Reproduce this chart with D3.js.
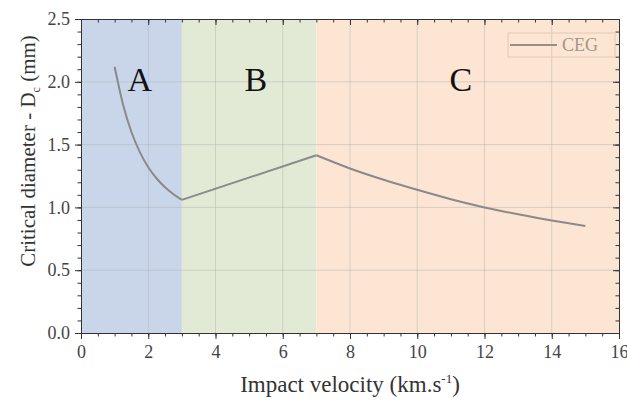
<!DOCTYPE html>
<html>
<head>
<meta charset="utf-8">
<script src="https://cdn.jsdelivr.net/npm/d3@7"></script>
<style>
	body { margin: 0; background: #fff; }
</style>
</head>
<body>
<div id="chart-area"></div>
<script>
// ** Data **
var velocity = [1, 1.25, 1.5, 1.75, 2, 2.25, 2.5, 2.75, 3, 7, 8, 9, 10, 11, 12, 13, 14, 15];
var diameter = [2.12, 1.82, 1.60, 1.44, 1.32, 1.23, 1.16, 1.105, 1.06, 1.415, 1.31, 1.22, 1.14, 1.065, 1.0, 0.945, 0.895, 0.852];
var regionNames = ["A", "B", "C"];
var regionStart = [0, 3, 7];
var regionEnd = [3, 7, 16];
var regionLabelX = [1.75, 5.2, 11.3];
var regionLabelY = 1.93;
var xTicks = [0, 2, 4, 6, 8, 10, 12, 14, 16];
var yTicks = [0.0, 0.5, 1.0, 1.5, 2.0, 2.5];
var seriesName = "CEG";

var serif = "'Liberation Serif', 'Times New Roman', serif";

// ** Dimensions **
var svgWidth = 627, svgHeight = 401;
var margin = { left: 81, right: 8, top: 19, bottom: 68 };
var width = svgWidth - margin.left - margin.right;
var height = svgHeight - margin.top - margin.bottom;

var svg = d3.select("#chart-area")
	.append("svg")
	.attr("width", svgWidth)
	.attr("height", svgHeight)
	.attr("font-family", serif);

var g = svg.append("g")
	.attr("transform", "translate(" + margin.left + "," + margin.top + ")");

// Scales
var x = d3.scaleLinear().domain([0, 16]).range([0, width]);
var y = d3.scaleLinear().domain([0, 2.5]).range([height, 0]);
var regionColor = d3.scaleOrdinal()
	.domain(regionNames)
	.range(["#c9d6ea", "#e2ead6", "#fde5d3"]);

// Background regions
regionNames.forEach(function(name, i){
	g.append("rect")
		.attr("x", x(regionStart[i]))
		.attr("y", y(2.5))
		.attr("width", x(regionEnd[i]) - x(regionStart[i]))
		.attr("height", y(0) - y(2.5))
		.attr("fill", regionColor(name));
});

// Grid
g.append("g")
	.selectAll("line")
	.data(xTicks.slice(1, -1))
	.enter().append("line")
	.attr("x1", function(d){ return x(d); })
	.attr("x2", function(d){ return x(d); })
	.attr("y1", 0).attr("y2", height)
	.attr("stroke", "#b0b0b0").attr("stroke-opacity", 0.45);
g.append("g")
	.selectAll("line")
	.data(yTicks.slice(1, -1))
	.enter().append("line")
	.attr("y1", function(d){ return y(d); })
	.attr("y2", function(d){ return y(d); })
	.attr("x1", 0).attr("x2", width)
	.attr("stroke", "#b0b0b0").attr("stroke-opacity", 0.45);

// Region labels
regionNames.forEach(function(name, i){
	g.append("text")
		.attr("x", x(regionLabelX[i]))
		.attr("y", y(regionLabelY))
		.attr("text-anchor", "middle")
		.attr("font-family", serif)
		.attr("font-size", 34)
		.attr("fill", "#111")
		.text(name);
});

// Line
var points = velocity.map(function(v, i){ return [v, diameter[i]]; });
var line = d3.line()
	.x(function(d){ return x(d[0]); })
	.y(function(d){ return y(d[1]); })
	.curve(d3.curveMonotoneX);
// split so the kinks at 3 and 7 stay sharp
var seg1 = points.slice(0, 9), seg2 = points.slice(8, 10), seg3 = points.slice(9);
[seg1, seg2, seg3].forEach(function(seg){
	g.append("path")
		.attr("d", line(seg))
		.attr("fill", "none")
		.attr("stroke", "#8a8a8c")
		.attr("stroke-width", 2)
		.attr("stroke-linejoin", "round");
});

// Axes
var axisColor = "#333";
function styleAxis(sel){
	sel.attr("font-family", serif);
	sel.selectAll("path, line").attr("stroke", axisColor);
	sel.selectAll("text")
		.attr("fill", "#444")
		.attr("font-size", 18)
		.attr("font-family", serif);
}
var xMinor = d3.range(0, 16.01, 0.5);
var yMinor = d3.range(0, 2.501, 0.1);

var bottomMinor = g.append("g").attr("transform", "translate(0," + height + ")")
	.call(d3.axisBottom(x).tickValues(xMinor).tickSize(3.5).tickFormat(""));
var bottom = g.append("g").attr("transform", "translate(0," + height + ")")
	.call(d3.axisBottom(x).tickValues(xTicks).tickSize(6).tickPadding(6).tickFormat(d3.format("d")));
var topMinor = g.append("g")
	.call(d3.axisTop(x).tickValues(xMinor).tickSize(-3.5).tickFormat(""));
var topAx = g.append("g")
	.call(d3.axisTop(x).tickValues(xTicks).tickSize(-6).tickFormat(""));
var leftMinor = g.append("g")
	.call(d3.axisLeft(y).tickValues(yMinor).tickSize(3.5).tickFormat(""));
var left = g.append("g")
	.call(d3.axisLeft(y).tickValues(yTicks).tickSize(6).tickPadding(5).tickFormat(d3.format(".1f")));
var rightMinor = g.append("g").attr("transform", "translate(" + width + ",0)")
	.call(d3.axisRight(y).tickValues(yMinor).tickSize(-3.5).tickFormat(""));
var rightAx = g.append("g").attr("transform", "translate(" + width + ",0)")
	.call(d3.axisRight(y).tickValues(yTicks).tickSize(-6).tickFormat(""));
[bottomMinor, bottom, topMinor, topAx, leftMinor, left, rightMinor, rightAx].forEach(styleAxis);

// Legend
var legend = g.append("g")
	.attr("transform", "translate(" + (width - 111) + ",14)");
legend.append("rect")
	.attr("width", 107).attr("height", 24)
	.attr("fill", "none")
	.attr("stroke", "#e3c9b6");
legend.append("line")
	.attr("x1", 2).attr("x2", 49)
	.attr("y1", 12).attr("y2", 12)
	.attr("stroke", "#9a8f86").attr("stroke-width", 2);
legend.append("text")
	.attr("x", 54).attr("y", 18)
	.attr("font-family", serif)
	.attr("font-size", 18)
	.attr("fill", "#a59587")
	.text(seriesName);

// Axis titles
var xLabel = svg.append("text")
	.attr("x", 350)
	.attr("y", 392)
	.attr("text-anchor", "middle")
	.attr("font-family", serif)
	.attr("font-size", 23)
	.attr("fill", "#333");
xLabel.append("tspan").text("Impact velocity (km.s");
xLabel.append("tspan").attr("font-size", 13).attr("dy", -9).text("-1");
xLabel.append("tspan").attr("dy", 9).text(")");

var yLabel = svg.append("text")
	.attr("transform", "translate(35," + 151 + ") rotate(-90)")
	.attr("text-anchor", "middle")
	.attr("font-family", serif)
	.attr("font-size", 21)
	.attr("fill", "#333");
yLabel.append("tspan").text("Critical diameter - D");
yLabel.append("tspan").attr("font-size", 12).attr("dy", 5).text("c");
yLabel.append("tspan").attr("dy", -5).text(" (mm)");
</script>
</body>
</html>
